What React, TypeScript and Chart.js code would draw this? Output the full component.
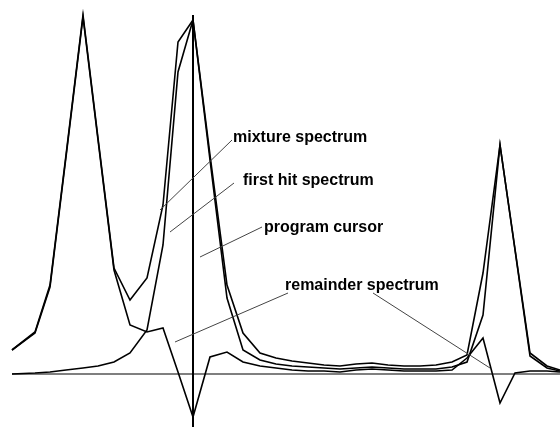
import React, { useEffect, useRef } from "react";
import { Chart, registerables } from "chart.js";

Chart.register(...registerables);

// sample positions (channel axis)
const channels = [12, 35, 50, 66, 83, 98, 114, 130, 147, 163, 178, 193, 210, 227, 243, 260, 276, 292, 308, 324, 340, 356, 372, 388, 404, 420, 436, 452, 467, 483, 500, 515, 530, 547, 560];

// intensities (arbitrary units, baseline = 0)
const mixture = [24, 42, 89, 219, 359, 236, 106, 74, 96, 169, 332, 354, 219, 89, 41, 21, 16, 13, 11, 9, 8, 10, 11, 9, 8, 8, 9, 12, 19, 101, 229, 125, 21, 8, 4];
const firstHit = [0, 1, 2, 4, 6, 8, 12, 21, 44, 129, 302, 354, 214, 76, 24, 14, 10, 8, 7, 6, 5, 6, 7, 6, 5, 5, 5, 7, 12, 59, 229, 124, 18, 6, 3];
const remainder = [24, 41, 87, 217, 357, 234, 104, 49, 42, 46, 2, -43, 17, 22, 12, 8, 6, 4, 3, 3, 2, 4, 5, 4, 3, 3, 3, 4, 16, 36, -29, 1, 3, 3, 2];

// program cursor position and its vertical extent
const cursorX = 193;
const cursorRange = [359, -53];
const baselineRange = [12, 560];

// labels: text, text anchor (x, y), leader lines [x1, y1, x2, y2]
const labelTexts = ["mixture spectrum", "first hit spectrum", "program cursor", "remainder spectrum"];
const labelAnchors = [[233, 232], [243, 189], [264, 142], [285, 84]];
const leaderLines = [
  [232, 234, 160, 164],
  [234, 191, 170, 142],
  [262, 147, 200, 117],
  [288, 81, 175, 32],
  [373, 81, 490, 6],
];

const toXY = (ys: number[]) => ys.map((y, i) => ({ x: channels[i], y }));

export default function App() {
  const ref = useRef<HTMLCanvasElement | null>(null);
  useEffect(() => {
    if (!ref.current) return;
    const overlay = {
      id: "overlay",
      afterDatasetsDraw(chart: any) {
        const { ctx, scales } = chart;
        const X = (v: number) => scales.x.getPixelForValue(v);
        const Y = (v: number) => scales.y.getPixelForValue(v);
        ctx.save();
        // baseline
        ctx.strokeStyle = "#000";
        ctx.lineWidth = 1.2;
        ctx.beginPath();
        ctx.moveTo(X(baselineRange[0]), Y(0));
        ctx.lineTo(X(baselineRange[1]), Y(0));
        ctx.stroke();
        // cursor
        ctx.lineWidth = 2;
        ctx.beginPath();
        ctx.moveTo(X(cursorX), Y(cursorRange[0]));
        ctx.lineTo(X(cursorX), Y(cursorRange[1]));
        ctx.stroke();
        // leader lines
        ctx.strokeStyle = "#444";
        ctx.lineWidth = 1;
        leaderLines.forEach(([x1, y1, x2, y2]) => {
          ctx.beginPath();
          ctx.moveTo(X(x1), Y(y1));
          ctx.lineTo(X(x2), Y(y2));
          ctx.stroke();
        });
        // texts
        ctx.fillStyle = "#000";
        ctx.font = "bold 16px 'Liberation Sans', Arial, sans-serif";
        ctx.textBaseline = "alphabetic";
        ctx.textAlign = "left";
        labelTexts.forEach((t, i) => {
          ctx.fillText(t, X(labelAnchors[i][0]), Y(labelAnchors[i][1]));
        });
        ctx.restore();
      },
    };
    const lineStyle = {
      borderColor: "#000",
      borderWidth: 1.6,
      pointRadius: 0,
      tension: 0,
      fill: false,
    };
    const chart = new Chart(ref.current, {
      type: "line",
      data: {
        datasets: [
          { label: "mixture spectrum", data: toXY(mixture), ...lineStyle },
          { label: "first hit spectrum", data: toXY(firstHit), ...lineStyle },
          { label: "remainder spectrum", data: toXY(remainder), ...lineStyle },
        ],
      },
      options: {
        animation: false,
        responsive: false,
        layout: { padding: 0 },
        plugins: { legend: { display: false }, tooltip: { enabled: false } },
        scales: {
          x: { type: "linear", min: 0, max: 560, display: false },
          y: { type: "linear", min: -56, max: 374, display: false },
        },
      },
      plugins: [overlay],
    });
    return () => chart.destroy();
  }, []);
  return (
    <div style={{ position: "fixed", left: 0, top: 0, width: 560, height: 430, background: "#fff" }}>
      <canvas ref={ref} width={560} height={430} style={{ width: 560, height: 430 }} />
    </div>
  );
}
